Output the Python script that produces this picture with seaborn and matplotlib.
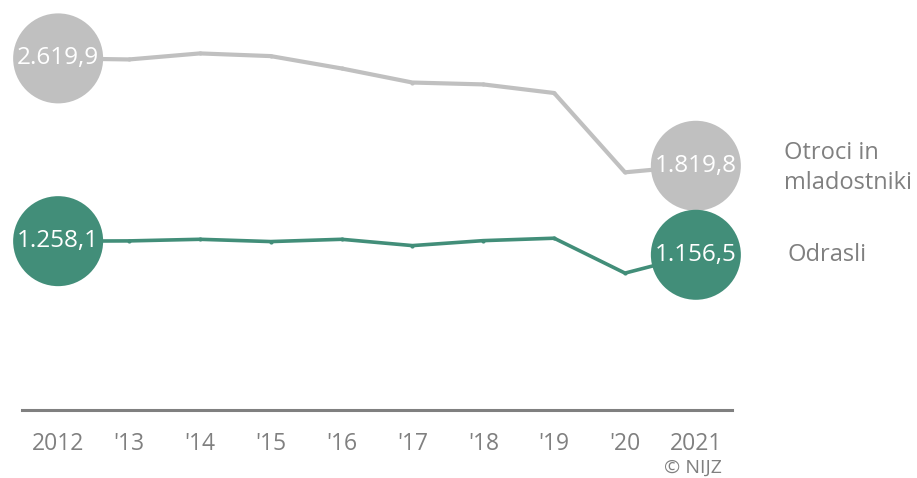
import matplotlib
matplotlib.use("Agg")
import matplotlib.pyplot as plt
import seaborn as sns
import pandas as pd

years = [2012, 2013, 2014, 2015, 2016, 2017, 2018, 2019, 2020, 2021]
year_labels = ["2012", "'13", "'14", "'15", "'16", "'17", "'18", "'19", "'20", "2021"]
children = [2619.9, 2612, 2657, 2637, 2545, 2440, 2426, 2362, 1771, 1819.8]
adults = [1258.1, 1260, 1272, 1255, 1272, 1225, 1262, 1280, 1020, 1156.5]
series_names = ["Otroci in\nmladostniki", "Odrasli"]
end_labels = [["2.619,9", "1.819,8"], ["1.258,1", "1.156,5"]]

GREY = "#c0c0c0"
GREEN = "#428e79"
TEXT = "#808080"

df = pd.DataFrame({
    "year": years * 2,
    "value": children + adults,
    "group": [series_names[0]] * len(years) + [series_names[1]] * len(years),
})

sns.set_style("white")
plt.rcParams["font.family"] = ["Open Sans", "DejaVu Sans"]

fig = plt.figure(figsize=(9.17, 4.78), dpi=100)
ax = fig.add_axes([22 / 917, 68 / 478, 710 / 917, 410 / 478])

palette = {series_names[0]: GREY, series_names[1]: GREEN}
widths = {series_names[0]: 3.0, series_names[1]: 2.6}
for name in series_names:
    sub = df[df["group"] == name]
    sns.lineplot(data=sub, x="year", y="value", color=palette[name],
                 lw=widths[name], marker="o", markersize=3, markeredgewidth=0,
                 ax=ax, legend=False)
    ends = sub.iloc[[0, -1]]
    sns.scatterplot(data=ends, x="year", y="value", color=palette[name],
                    s=4200, edgecolor="none", ax=ax, legend=False, zorder=5,
                    clip_on=False)

for vals, labs in zip([children, adults], end_labels):
    for xv, yv, t in [(years[0], vals[0], labs[0]), (years[-1], vals[-1], labs[1])]:
        ax.text(xv, yv, t, color="white", fontsize=17.5, ha="center",
                va="center", zorder=6)

ax.text(2022.25, 2615 - (167 - 58) * 7.45, series_names[0], color=TEXT,
        fontsize=17, ha="left", va="center", linespacing=1.35)
ax.text(2022.29, adults[-1], series_names[1], color=TEXT, fontsize=17,
        ha="left", va="center")

ax.set_xlim(2011.49, 2021.51)
ax.set_ylim(0, 3055)
ax.set_xticks(years)
ax.set_xticklabels(year_labels, color=TEXT, fontsize=16.5)
ax.tick_params(axis="x", length=0, pad=16)
ax.set_yticks([])
ax.set_xlabel("")
ax.set_ylabel("")
for side in ["top", "right", "left"]:
    ax.spines[side].set_visible(False)
ax.spines["bottom"].set_color(TEXT)
ax.spines["bottom"].set_linewidth(2.2)

fig.text(722 / 917, 1 - 468 / 478, "© NIJZ", color=TEXT, fontsize=14,
         ha="right", va="center")

fig.savefig("out.png", dpi=100)
